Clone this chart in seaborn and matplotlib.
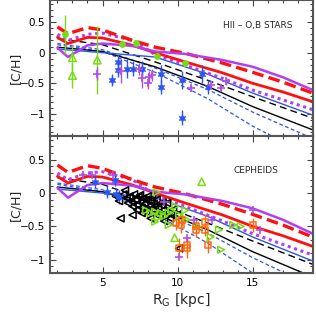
import numpy as np
import pandas as pd
import seaborn as sns
import matplotlib.pyplot as plt
from matplotlib.ticker import MultipleLocator

# model gradients (same in both panels)
mod_x = [2, 2.7, 4, 5, 7, 8.5, 10.5, 13, 15, 17, 19]
red_dash = [0.42, 0.31, 0.41, 0.37, 0.20, 0.09, -0.01, -0.17, -0.32, -0.48, -0.66]
red_solid = [0.25, 0.15, 0.25, 0.24, 0.12, 0.00, -0.15, -0.33, -0.50, -0.64, -0.80]
purple_solid = [0.08, -0.07, 0.12, 0.15, 0.11, 0.02, -0.02, -0.12, -0.23, -0.40, -0.61]
purple_dot = [0.30, 0.20, 0.30, 0.32, 0.20, -0.03, -0.20, -0.42, -0.61, -0.77, -0.93]

lin_x = [2, 5, 8.5, 12, 15, 19]
black_dash = [0.23, 0.13, -0.15, -0.45, -0.72, -1.07]
black_solid = [0.09, 0.02, -0.23, -0.55, -0.88, -1.26]
blue_solid = [0.06, 0.00, -0.07, -0.35, -0.66, -1.02]
blue_dash1 = [0.15, 0.05, -0.25, -0.60, -0.97, -1.40]
blue_dash2 = [0.13, 0.02, -0.32, -0.75, -1.20, -1.70]

# top panel: HII regions and O,B stars
hii_circ_x = [2.5, 6.3, 7.2, 8.6, 10.5]
hii_circ_y = [0.30, 0.15, 0.16, -0.06, -0.17]
hii_circ_e = [0.32, 0.05, 0.05, 0.05, 0.05]
hii_tri_x = [3.0, 3.0, 4.65]
hii_tri_y = [-0.08, -0.37, -0.12]
hii_tri_e = [0.2, 0.2, 0.55]
bstar_x = [5.6, 6.0, 6.0, 6.6, 7.0, 7.6, 8.9, 8.9, 10.3, 10.3, 11.6, 12.0]
bstar_y = [-0.45, -0.15, -0.28, -0.26, -0.26, -0.26, -0.35, -0.56, -0.45, -1.06, -0.35, -0.56]
bstar_e = [0.1, 0.12, 0.12, 0.15, 0.12, 0.12, 0.15, 0.12, 0.15, 0.12, 0.15, 0.12]
ostar_x = [4.65, 6.2, 7.4, 7.6, 8.1, 8.3, 8.0, 10.9, 12.2, 12.9, 13.2]
ostar_y = [-0.34, -0.30, -0.26, -0.42, -0.40, -0.36, -0.50, -0.57, -0.52, -0.57, -0.47]
ostar_e = [0.1, 0.2, 0.1, 0.15, 0.1, 0.1, 0.1, 0.05, 0.05, 0.05, 0.05]

# bottom panel: cepheids
ceph_bk_x = [5.9, 6.1, 6.2, 6.4, 6.5, 6.6, 6.8, 6.9, 7.0, 7.1, 7.2, 7.3, 7.4, 7.5,
             7.6, 7.6, 7.7, 7.8, 7.9, 8.0, 8.1, 8.2, 8.2, 8.3, 8.4, 8.5, 8.6, 8.7,
             8.8, 8.9, 9.0, 9.2, 9.3, 9.5, 9.7, 10.0, 7.0, 8.0, 9.1, 10.1,
             6.7, 7.3, 7.9, 8.5, 9.0, 9.6, 7.5, 8.3]
ceph_bk_y = [-0.05, -0.12, -0.38, -0.02, 0.04, -0.08, -0.05, -0.12, -0.33, -0.02,
             -0.10, -0.18, -0.06, -0.14, -0.22, -0.30, -0.08, -0.16, -0.28, -0.05,
             -0.20, -0.12, -0.38, -0.25, -0.16, -0.30, -0.10, -0.22, -0.35, -0.18,
             -0.26, -0.30, -0.15, -0.38, -0.25, -0.32, -0.20, -0.12, -0.42, -0.83,
             -0.15, -0.25, -0.10, -0.20, -0.14, -0.33, -0.03, -0.08]
ceph_gr_x = [7.9, 8.2, 8.5, 8.7, 8.9, 9.1, 9.4, 9.6, 9.85, 10.1, 10.5, 10.6,
             11.3, 12.75, 13.7, 14.2, 8.6, 8.5, 9.4, 12.2, 12.9]
ceph_gr_y = [-0.26, -0.30, -0.28, -0.37, -0.30, -0.35, -0.30, -0.27, -0.20, -0.33,
             -0.26, -0.40, -0.50, -0.55, -0.48, -0.50, 0.01, -0.43, -0.48, -0.66, -0.85]
ceph_gu_x = [9.8, 11.6]
ceph_gu_y = [-0.67, 0.17]
ceph_or_x = [9.9, 10.25, 10.3, 10.1, 10.6, 10.65, 11.2, 11.2, 11.8, 11.8, 12.0, 15.0]
ceph_or_y = [-0.45, -0.48, -0.40, -0.83, -0.83, -0.78, -0.50, -0.56, -0.43, -0.55, -0.78, -0.48]
ceph_or_e = [0.1, 0.12, 0.1, 0.15, 0.15, 0.12, 0.1, 0.1, 0.12, 0.1, 0.12, 0.1]
ceph_bs_x = [4.5, 5.3, 5.8, 5.9, 6.1]
ceph_bs_y = [0.17, 0.02, 0.20, -0.02, -0.06]
ceph_pp_x = [3.7, 4.3, 5.7, 9.1, 10.1, 10.6, 11.1, 12.3, 15.0, 15.5]
ceph_pp_y = [0.27, 0.27, 0.27, -0.13, -0.96, -0.68, -0.40, -0.40, -0.25, -0.55]

RED = '#ff1010'
PURPLE = '#b040f0'
BLUE = '#2d55f0'
GREEN = '#77dd11'
ORANGE = '#ff6a10'
MAG = '#b050e0'

sns.set_style("ticks")
plt.rcParams['font.family'] = ['DejaVu Sans']
plt.rcParams['xtick.direction'] = 'in'
plt.rcParams['ytick.direction'] = 'in'

fig = plt.figure(figsize=(3.16, 3.27), dpi=100)
ax1 = fig.add_axes([0.158, 0.584, 0.832, 0.416])
ax2 = fig.add_axes([0.158, 0.165, 0.832, 0.419])


def draw_models(ax):
    sns.lineplot(x=lin_x, y=blue_dash2, ax=ax, color=BLUE, lw=0.9, linestyle=(0, (3, 2)))
    sns.lineplot(x=lin_x, y=blue_dash1, ax=ax, color=BLUE, lw=0.9, linestyle=(0, (3, 2)))
    sns.lineplot(x=lin_x, y=black_solid, ax=ax, color='black', lw=1.0)
    sns.lineplot(x=lin_x, y=black_dash, ax=ax, color='black', lw=1.0, linestyle=(0, (5, 3)))
    sns.lineplot(x=lin_x, y=blue_solid, ax=ax, color=BLUE, lw=1.0)
    sns.lineplot(x=mod_x, y=purple_dot, ax=ax, color=PURPLE, lw=2.2, linestyle=(0, (1, 1.2)))
    sns.lineplot(x=mod_x, y=red_solid, ax=ax, color=RED, lw=2.0)
    sns.lineplot(x=mod_x, y=red_dash, ax=ax, color=RED, lw=2.4, linestyle=(0, (3.5, 1.6)))
    sns.lineplot(x=mod_x, y=purple_solid, ax=ax, color=PURPLE, lw=1.8)


def style_axes(ax, ylo, yhi):
    ax.set_xlim(1.5, 19)
    ax.set_ylim(ylo, yhi)
    ax.xaxis.set_major_locator(MultipleLocator(5))
    ax.xaxis.set_minor_locator(MultipleLocator(1))
    ax.set_yticks([-1, -0.5, 0, 0.5])
    ax.set_yticklabels(['\u22121', '\u22120.5', '0', '0.5'])
    ax.yaxis.set_minor_locator(MultipleLocator(0.1))
    ax.tick_params(which='both', top=True, right=True, colors='#444444',
                   labelcolor='black', labelsize=7.5, width=0.8)
    ax.tick_params(which='major', length=4)
    ax.tick_params(which='minor', length=2)
    for s in ax.spines.values():
        s.set_color('#555555')
        s.set_linewidth(1.5)
    ax.set_ylabel('[C/H]', fontsize=9)
    ax.yaxis.set_label_coords(-0.105, 0.5)


# top panel
draw_models(ax1)
ax1.errorbar(hii_circ_x, hii_circ_y, yerr=hii_circ_e, fmt='none', ecolor=GREEN, elinewidth=1)
ax1.errorbar(hii_tri_x, hii_tri_y, yerr=hii_tri_e, fmt='none', ecolor=GREEN, elinewidth=1)
ax1.errorbar(bstar_x, bstar_y, yerr=bstar_e, fmt='none', ecolor=BLUE, elinewidth=1)
ax1.errorbar(ostar_x, ostar_y, yerr=ostar_e, fmt='none', ecolor=MAG, elinewidth=1)
sns.scatterplot(x=hii_circ_x, y=hii_circ_y, ax=ax1, color=GREEN, s=20, edgecolor=GREEN, zorder=5)
sns.scatterplot(x=hii_tri_x, y=hii_tri_y, ax=ax1, marker='^', s=30, facecolor='none',
                edgecolor=GREEN, linewidth=1.1, zorder=5)
sns.scatterplot(x=bstar_x, y=bstar_y, ax=ax1, marker=(6, 1, 0), s=30, color=BLUE,
                edgecolor=BLUE, zorder=6)
sns.scatterplot(x=ostar_x, y=ostar_y, ax=ax1, marker='+', s=40, color=MAG, linewidth=1.2, zorder=6)
ax1.text(0.66, 0.815, 'HII \u2013 O,B STARS', transform=ax1.transAxes, fontsize=6.5, va='center')
style_axes(ax1, -1.36, 0.86)

# bottom panel
draw_models(ax2)
ax2.errorbar(ceph_or_x, ceph_or_y, yerr=ceph_or_e, fmt='none', ecolor=ORANGE, elinewidth=1)
ax2.errorbar(ceph_bs_x, ceph_bs_y, yerr=0.1, fmt='none', ecolor=BLUE, elinewidth=1)
sns.scatterplot(x=ceph_bk_x, y=ceph_bk_y, ax=ax2, marker='<', s=26, facecolor='none',
                edgecolor='black', linewidth=1.1, zorder=5)
sns.scatterplot(x=ceph_gr_x, y=ceph_gr_y, ax=ax2, marker='>', s=24, facecolor='none',
                edgecolor=GREEN, linewidth=1.1, zorder=5)
sns.scatterplot(x=ceph_gu_x, y=ceph_gu_y, ax=ax2, marker='^', s=28, facecolor='none',
                edgecolor=GREEN, linewidth=1.1, zorder=5)
sns.scatterplot(x=ceph_or_x, y=ceph_or_y, ax=ax2, marker='s', s=20, facecolor='none',
                edgecolor=ORANGE, linewidth=1.1, zorder=5)
sns.scatterplot(x=ceph_bs_x, y=ceph_bs_y, ax=ax2, marker=(6, 1, 0), s=30, color=BLUE,
                edgecolor=BLUE, zorder=6)
sns.scatterplot(x=ceph_pp_x, y=ceph_pp_y, ax=ax2, marker='+', s=40, color=MAG, linewidth=1.2, zorder=6)
ax2.text(0.70, 0.75, 'CEPHEIDS', transform=ax2.transAxes, fontsize=6.5, va='center')
style_axes(ax2, -1.2, 0.855)
ax2.set_xlabel('R$_\\mathregular{G}$ [kpc]', fontsize=10, labelpad=2)

fig.savefig('out.png', dpi=100)
